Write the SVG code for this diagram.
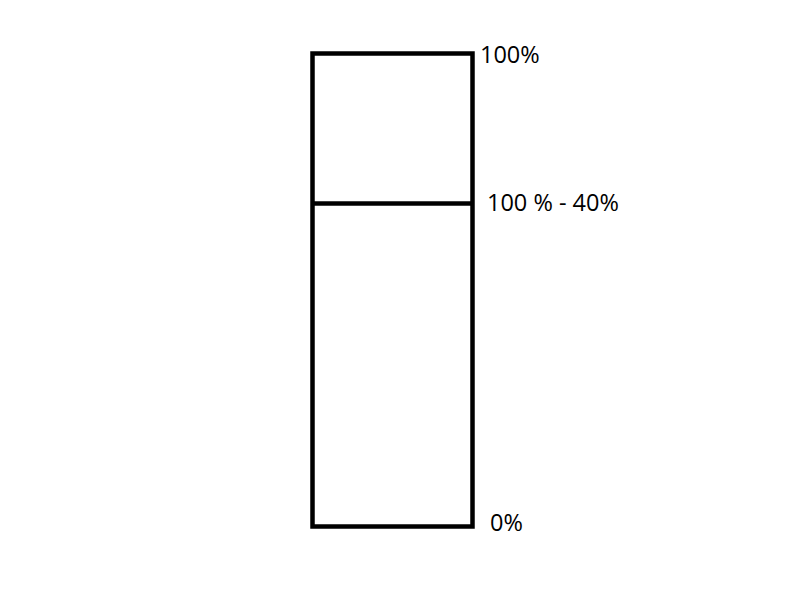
<svg xmlns="http://www.w3.org/2000/svg" width="800" height="600" viewBox="0 0 800 600">
<style>
.box{fill:none;stroke:#000;stroke-width:4.5}
.lbl{font-family:"Open Sans","Liberation Sans",sans-serif;font-size:23.5px;fill:#000}
</style>
<rect width="800" height="600" fill="#fff"/>
<g id="bar">
<rect class="box" x="312.5" y="53.5" width="160" height="473"/>
</g>
<g id="connectors">
<line class="box" x1="312.5" y1="203.5" x2="472.5" y2="203.5"/>
</g>
<g id="labels">
<text class="lbl" x="480" y="63">100%</text>
<text class="lbl" x="487" y="211">100 % - 40%</text>
<text class="lbl" x="490" y="531">0%</text>
</g>
</svg>
